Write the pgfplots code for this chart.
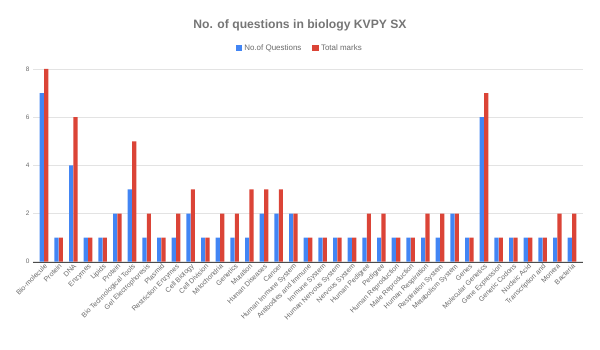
\documentclass[border=0pt]{standalone}
\usepackage{pgfplots}
\pgfplotsset{compat=1.18}
\usepackage{fontspec}
\setmainfont{Liberation Sans}
\definecolor{qblue}{HTML}{4285F4}
\definecolor{qred}{HTML}{DB4437}
\definecolor{txtgray}{HTML}{757575}
\definecolor{lblgray}{HTML}{6A6A6A}
\definecolor{gridgray}{HTML}{E3E3E3}
\begin{document}
\begin{tikzpicture}
\path[use as bounding box] (0,0) rectangle (600bp,350bp);
\node[font=\fontsize{12.2}{14}\selectfont\bfseries, text=txtgray] at (300bp,325bp) {No. of questions in biology KVPY SX};
\begin{axis}[
  at={(33bp,88.3bp)}, anchor=south west,
  scale only axis, width=550bp, height=192.7bp,
  ymin=0, ymax=8, ytick={0,2,4,6,8},
  xmin=-0.75, xmax=36.75,
  xtick=data,
  xticklabels={Bio-molecule,Protein,DNA,Enzymes,Lipids,Protein,Bio Technological Tools,Gel Electrophoresis,Plasmid,Restriction Enzymes,Cell Biology,Cell Division,Mitochondria,Genetics,Mutation,Human Diseases,Cancer,Human Immune System,Antibodies and Immune,Immune System,Human Nervous System,Nervous System,Human Pedigree,Pedigree,Human Reproduction,Male Reproduction,Human Respiration,Respiration System,Metabolism System,Genes,Molecular Genetics,Gene Expression,Genetic Codons,Nucleic Acid,Transcription and,Monera,Bacteria},
  x tick label style={rotate=45, anchor=north east, inner sep=1bp, font=\fontsize{7}{8}\selectfont, text=lblgray},
  y tick label style={font=\fontsize{6.5}{7.5}\selectfont, text=lblgray},
  /pgf/number format/assume math mode=true,
  major tick length=0pt,
  axis x line*=bottom, axis y line*=left,
  x axis line style={-, draw=black!70},
  y axis line style={draw=none},
  ymajorgrids, grid style={gridgray, line width=0.6bp},
  ybar, bar width=4.2bp,
  legend style={at={(0.485,1.109)}, anchor=center, draw=none, fill=none,
    legend columns=2, font=\fontsize{8}{9}\selectfont, text=lblgray,
    /tikz/every even column/.append style={column sep=9bp}},
]
\addplot[fill=qblue, draw=none, bar shift=-2.2bp,
  legend image code/.code={\fill[qblue] (0bp,-3.3bp) rectangle (6.6bp,3.3bp);}]
  coordinates {(0,7)(1,1)(2,4)(3,1)(4,1)(5,2)(6,3)(7,1)(8,1)(9,1)(10,2)(11,1)(12,1)(13,1)(14,1)(15,2)(16,2)(17,2)(18,1)(19,1)(20,1)(21,1)(22,1)(23,1)(24,1)(25,1)(26,1)(27,1)(28,2)(29,1)(30,6)(31,1)(32,1)(33,1)(34,1)(35,1)(36,1)};
\addlegendentry{No.of Questions}
\addplot[fill=qred, draw=none, bar shift=2.2bp,
  legend image code/.code={\fill[qred] (0bp,-3.3bp) rectangle (6.6bp,3.3bp);}]
  coordinates {(0,8)(1,1)(2,6)(3,1)(4,1)(5,2)(6,5)(7,2)(8,1)(9,2)(10,3)(11,1)(12,2)(13,2)(14,3)(15,3)(16,3)(17,2)(18,1)(19,1)(20,1)(21,1)(22,2)(23,2)(24,1)(25,1)(26,2)(27,2)(28,2)(29,1)(30,7)(31,1)(32,1)(33,1)(34,1)(35,2)(36,2)};
\addlegendentry{Total marks}
\end{axis}
\end{tikzpicture}
\end{document}
